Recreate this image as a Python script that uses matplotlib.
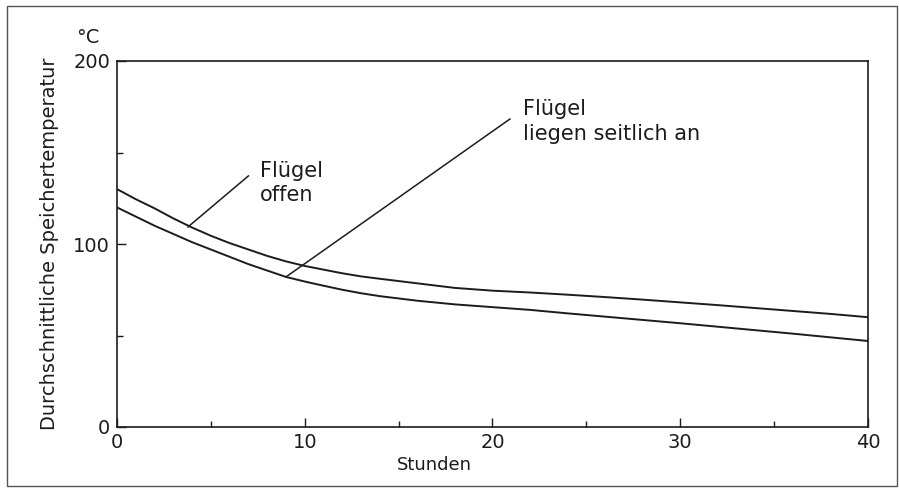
import matplotlib
matplotlib.use('Agg')
import matplotlib.pyplot as plt
from matplotlib.patches import Rectangle
from matplotlib.ticker import MultipleLocator

hours = [0, 1, 2, 3, 4, 5, 6, 7, 8, 9, 10, 11, 12, 13, 14, 16, 18, 20, 22, 24, 26, 28, 30, 32, 34, 36, 38, 40]
temp_offen = [130, 124.5, 119.5, 114, 109, 104.5, 100.5, 97, 93.5, 90.5, 88, 86, 84, 82.3, 81, 78.5, 76,
              74.5, 73.5, 72.3, 71, 69.6, 68.1, 66.6, 65, 63.4, 61.8, 60]
temp_seitlich = [120, 115, 110, 105.5, 101, 97, 93, 89, 85.5, 82, 79.5, 77.2, 75, 73.1, 71.5, 69, 67,
                 65.5, 64, 62.1, 60.3, 58.5, 56.7, 54.8, 52.9, 51, 49, 47]

x_ticks = [0, 10, 20, 30, 40]
y_ticks = [0, 100, 200]

ink = '#1c1c1c'
plt.rcParams['font.family'] = ['DejaVu Sans']

fig = plt.figure(figsize=(8.99, 4.88), dpi=100)
fig.patch.set_facecolor('white')
ax = fig.add_axes([0.1301, 0.125, 0.8354, 0.75])

ax.plot(hours, temp_offen, color=ink, lw=1.4)
ax.plot(hours, temp_seitlich, color=ink, lw=1.4)

ax.set_xlim(0, 40)
ax.set_ylim(0, 200)
ax.set_xticks(x_ticks)
ax.set_yticks(y_ticks)
ax.xaxis.set_minor_locator(MultipleLocator(5))
ax.yaxis.set_minor_locator(MultipleLocator(50))
ax.tick_params(which='both', direction='in', color=ink, width=1.0, labelsize=14, labelcolor=ink)
ax.tick_params(which='major', length=6.5)
ax.tick_params(which='minor', length=4.5)
ax.tick_params(axis='x', pad=4)
ax.tick_params(axis='y', pad=5)
for s in ax.spines.values():
    s.set_color(ink)
    s.set_linewidth(1.2)

# labels
ax.text(-0.0892, 0.5, 'Durchschnittliche Speichertemperatur', transform=ax.transAxes,
        rotation=90, ha='center', va='center', fontsize=14, color=ink)
ax.text(-0.0386, 1.063, '°C', transform=ax.transAxes, ha='center', va='center',
        fontsize=14, color=ink)
ax.text(16.9, -0.105, 'Stunden', transform=ax.get_xaxis_transform(), ha='center',
        va='center', fontsize=13, color=ink)

# annotations with leader lines
ax.plot([7.0, 3.78], [137.2, 109.3], color=ink, lw=1.1)
ax.text(7.62, 136.6, 'Flügel', fontsize=15, color=ink, va='baseline')
ax.text(7.62, 123.5, 'offen', fontsize=15, color=ink, va='baseline')

ax.plot([20.93, 9.0], [168.3, 82.0], color=ink, lw=1.1)
ax.text(21.6, 170.5, 'Flügel', fontsize=15, color=ink, va='baseline')
ax.text(21.6, 156.8, 'liegen seitlich an', fontsize=15, color=ink, va='baseline')

# outer frame of the scan
fig.patches.append(Rectangle((7 / 899, 2 / 488), 890 / 899, 480 / 488, transform=fig.transFigure,
                             fill=False, edgecolor='#555555', lw=1.0))

fig.savefig('out.png', dpi=100, facecolor='white')
